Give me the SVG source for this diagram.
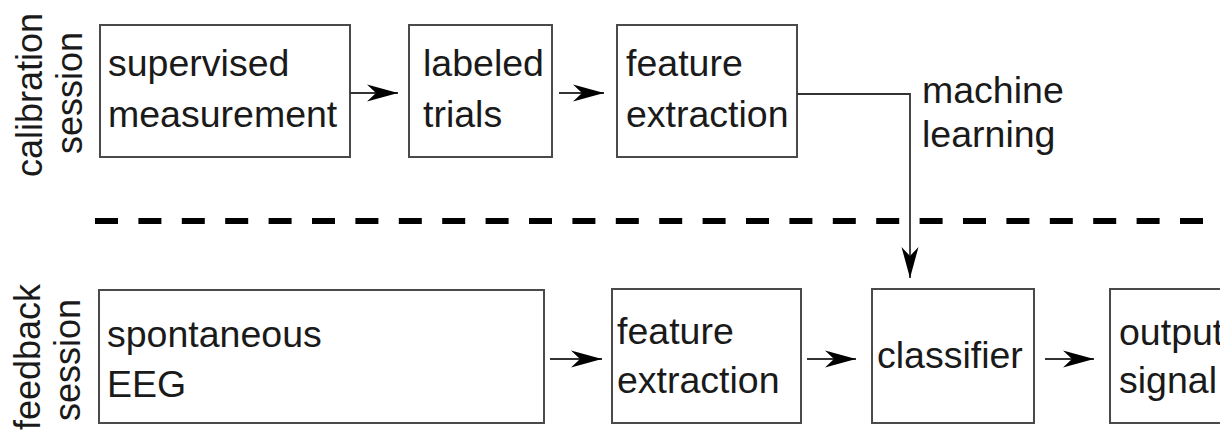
<svg xmlns="http://www.w3.org/2000/svg" width="1220" height="434" viewBox="0 0 1220 434">
  <style>
    .box { fill: #ffffff; stroke: #4a4a4a; stroke-width: 2; }
    .lbl { font-family: "Liberation Sans", Arial, sans-serif; font-size: 37.5px; fill: #1a1a1a; }
    .side { font-family: "Liberation Sans", Arial, sans-serif; font-size: 36px; fill: #1a1a1a; text-anchor: middle; }
    .wire { fill: none; stroke: #333333; stroke-width: 1.8; }
    .split { fill: none; stroke: #000000; stroke-width: 6; stroke-dasharray: 23 20.4; }
  </style>
  <defs>
    <marker id="stealth" viewBox="0 0 31 18" refX="31" refY="9" markerWidth="31" markerHeight="18" markerUnits="userSpaceOnUse" orient="auto">
      <path d="M0,0.5 L31,9 L0,17.5 L9,9 Z" fill="#000000"/>
    </marker>
  </defs>

  <rect width="1220" height="434" fill="#ffffff"/>

  <!-- session labels -->
  <g id="label-calibration">
    <text class="side" transform="translate(42,95) rotate(-90)">calibration</text>
    <text class="side" transform="translate(82,93) rotate(-90)">session</text>
  </g>
  <g id="label-feedback">
    <text class="side" transform="translate(40,357) rotate(-90)">feedback</text>
    <text class="side" transform="translate(80,360) rotate(-90)">session</text>
  </g>

  <!-- separator between the two sessions -->
  <line class="split" x1="95" y1="221" x2="1220" y2="221"/>

  <!-- calibration row -->
  <g id="supervised-measurement">
    <rect class="box" x="100" y="25" width="250" height="132"/>
    <text class="lbl" x="108" y="76">supervised</text>
    <text class="lbl" x="108" y="127">measurement</text>
  </g>
  <g id="labeled-trials">
    <rect class="box" x="409" y="25" width="143" height="132"/>
    <text class="lbl" x="423" y="76">labeled</text>
    <text class="lbl" x="423" y="127">trials</text>
  </g>
  <g id="feature-extraction-calib">
    <rect class="box" x="617" y="25" width="180" height="132"/>
    <text class="lbl" x="626" y="76">feature</text>
    <text class="lbl" x="626" y="127">extraction</text>
  </g>
  <g id="machine-learning">
    <text class="lbl" x="922" y="103">machine</text>
    <text class="lbl" x="922" y="147">learning</text>
  </g>

  <!-- feedback row -->
  <g id="spontaneous-eeg">
    <rect class="box" x="99" y="290" width="445" height="133"/>
    <text class="lbl" x="107" y="347">spontaneous</text>
    <text class="lbl" x="107" y="397">EEG</text>
  </g>
  <g id="feature-extraction-feedback">
    <rect class="box" x="612" y="289" width="189" height="134"/>
    <text class="lbl" x="617" y="344">feature</text>
    <text class="lbl" x="617" y="393">extraction</text>
  </g>
  <g id="classifier">
    <rect class="box" x="872" y="289" width="162" height="134"/>
    <text class="lbl" x="877" y="368">classifier</text>
  </g>
  <g id="output-signal">
    <rect class="box" x="1110" y="289" width="140" height="134"/>
    <text class="lbl" x="1119" y="345">output</text>
    <text class="lbl" x="1119" y="393">signal</text>
  </g>

  <!-- connectors -->
  <g id="connectors">
    <line class="wire" x1="350" y1="93" x2="398" y2="93" marker-end="url(#stealth)"/>
    <line class="wire" x1="559" y1="93" x2="604" y2="93" marker-end="url(#stealth)"/>
    <path class="wire" d="M797,94 H910 V278" marker-end="url(#stealth)"/>
    <line class="wire" x1="550" y1="359" x2="602" y2="359" marker-end="url(#stealth)"/>
    <line class="wire" x1="807" y1="359" x2="856" y2="359" marker-end="url(#stealth)"/>
    <line class="wire" x1="1045" y1="359" x2="1094" y2="359" marker-end="url(#stealth)"/>
  </g>
</svg>
